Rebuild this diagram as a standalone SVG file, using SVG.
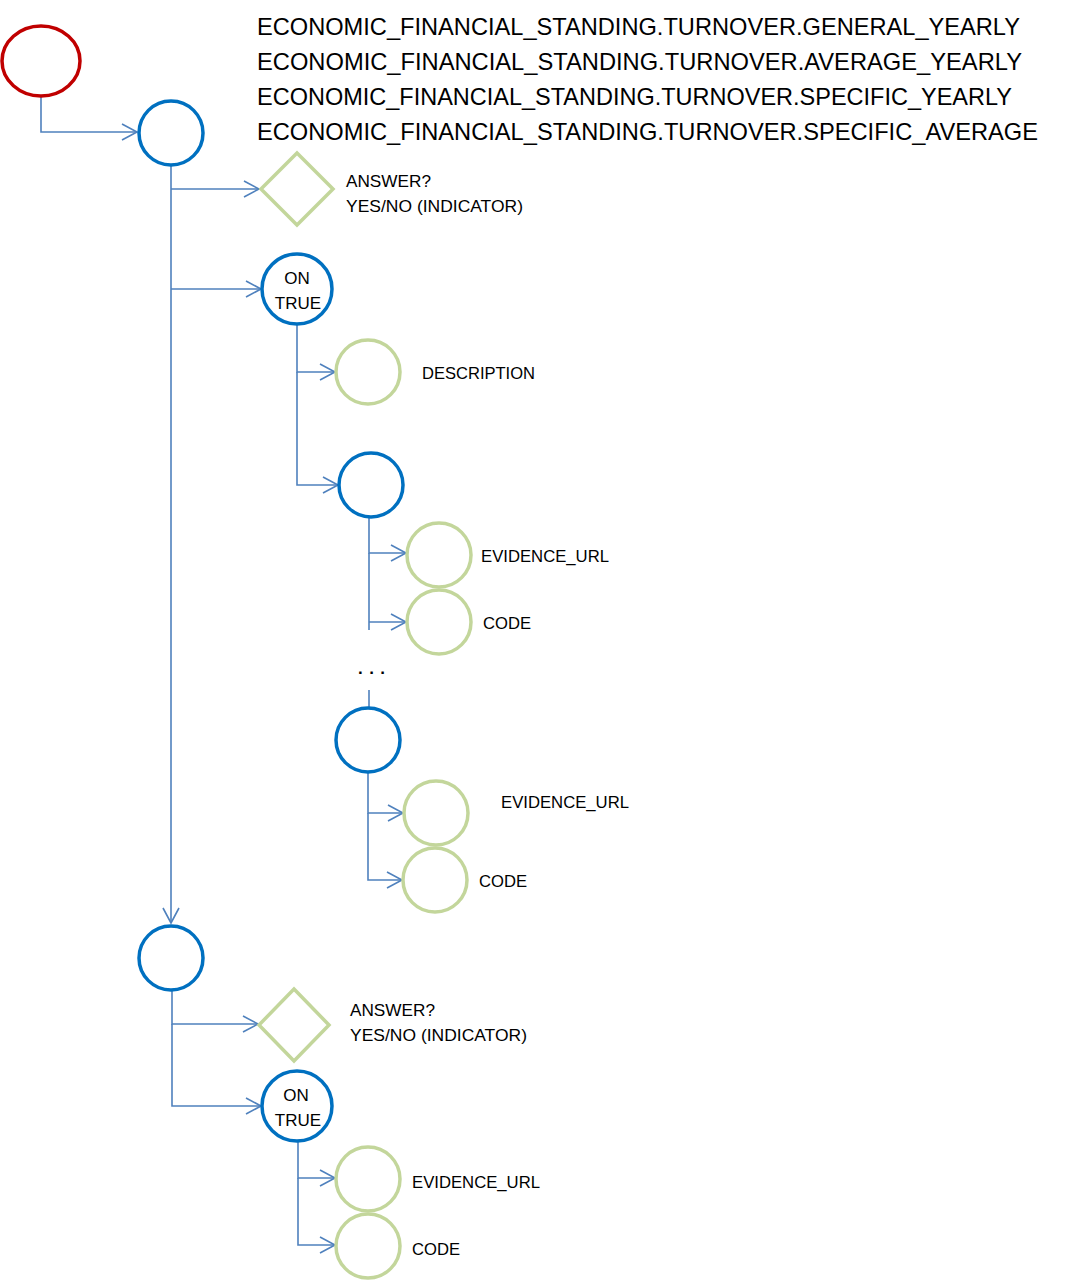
<svg xmlns="http://www.w3.org/2000/svg" width="1067" height="1280" viewBox="0 0 1067 1280">
<style>
.blue{fill:#fff;stroke:#0070C0;stroke-width:3.5}
.red{fill:#fff;stroke:#C00000;stroke-width:3.5}
.green{fill:#fff;stroke:#C3D69B;stroke-width:3.5}
.conn{fill:none;stroke:#4F81BD;stroke-width:1.6}
.hdr{font-family:"Liberation Sans",Arial,sans-serif;font-size:24px;fill:#000}
.lbl{font-family:"Liberation Sans",Arial,sans-serif;font-size:17px;fill:#000}
</style>
<defs>
<marker id="arr" markerWidth="20" markerHeight="20" refX="16" refY="9" orient="auto" markerUnits="userSpaceOnUse">
<path d="M1,1 L16,9 L1,17" fill="none" stroke="#4F81BD" stroke-width="1.6"/>
</marker>
</defs>
<g id="header">
<text class="hdr" x="257" y="35" textLength="763" lengthAdjust="spacingAndGlyphs">ECONOMIC_FINANCIAL_STANDING.TURNOVER.GENERAL_YEARLY</text>
<text class="hdr" x="257" y="70" textLength="765" lengthAdjust="spacingAndGlyphs">ECONOMIC_FINANCIAL_STANDING.TURNOVER.AVERAGE_YEARLY</text>
<text class="hdr" x="257" y="105" textLength="755" lengthAdjust="spacingAndGlyphs">ECONOMIC_FINANCIAL_STANDING.TURNOVER.SPECIFIC_YEARLY</text>
<text class="hdr" x="257" y="140" textLength="781" lengthAdjust="spacingAndGlyphs">ECONOMIC_FINANCIAL_STANDING.TURNOVER.SPECIFIC_AVERAGE</text>
</g>
<g id="connectors">
<path class="conn" d="M41,96 V132 H137" marker-end="url(#arr)"/>
<path class="conn" d="M171,165 V923" marker-end="url(#arr)"/>
<path class="conn" d="M171,189 H259" marker-end="url(#arr)"/>
<path class="conn" d="M171,289 H261" marker-end="url(#arr)"/>
<path class="conn" d="M297,324 V372 H335" marker-end="url(#arr)"/>
<path class="conn" d="M297,372 V485 H338" marker-end="url(#arr)"/>
<path class="conn" d="M369,517 V553 H406" marker-end="url(#arr)"/>
<path class="conn" d="M369,553 V630"/>
<path class="conn" d="M369,622 H406" marker-end="url(#arr)"/>
<path class="conn" d="M369,690 V708"/>
<path class="conn" d="M368,772 V813 H403" marker-end="url(#arr)"/>
<path class="conn" d="M368,813 V880 H402" marker-end="url(#arr)"/>
<path class="conn" d="M172,990 V1024 H258" marker-end="url(#arr)"/>
<path class="conn" d="M172,1024 V1106 H261" marker-end="url(#arr)"/>
<path class="conn" d="M298,1141 V1178 H335" marker-end="url(#arr)"/>
<path class="conn" d="M298,1178 V1245 H335" marker-end="url(#arr)"/>
</g>
<g id="root"><ellipse class="red" cx="41" cy="61" rx="39" ry="35"/></g>
<g id="group1"><circle class="blue" cx="171" cy="133" r="32"/></g>
<g id="answer1"><polygon class="green" points="297,153 333,189 297,225 261,189"/>
<text class="lbl" x="346" y="187" textLength="85" lengthAdjust="spacingAndGlyphs">ANSWER?</text>
<text class="lbl" x="346" y="212" textLength="177" lengthAdjust="spacingAndGlyphs">YES/NO (INDICATOR)</text></g>
<g id="ontrue1"><circle class="blue" cx="297" cy="289" r="35"/>
<text class="lbl" x="297" y="284" text-anchor="middle">ON</text>
<text class="lbl" x="298" y="309" text-anchor="middle">TRUE</text></g>
<g id="description"><circle class="green" cx="368" cy="372" r="32"/>
<text class="lbl" x="422" y="379" textLength="113" lengthAdjust="spacingAndGlyphs">DESCRIPTION</text></g>
<g id="evidence1"><circle class="blue" cx="371" cy="485" r="32"/></g>
<g id="evurl1"><circle class="green" cx="439" cy="555" r="32"/>
<text class="lbl" x="481" y="562" textLength="128" lengthAdjust="spacingAndGlyphs">EVIDENCE_URL</text></g>
<g id="code1"><circle class="green" cx="439" cy="622" r="32"/>
<text class="lbl" x="483" y="629" textLength="48" lengthAdjust="spacingAndGlyphs">CODE</text></g>
<g id="ellipsis"><text class="lbl" x="358" y="674" font-size="22" font-weight="bold" textLength="27" lengthAdjust="spacing">...</text></g>
<g id="evidence2"><circle class="blue" cx="368" cy="740" r="32"/></g>
<g id="evurl2"><circle class="green" cx="436" cy="813" r="32"/>
<text class="lbl" x="501" y="808" textLength="128" lengthAdjust="spacingAndGlyphs">EVIDENCE_URL</text></g>
<g id="code2"><circle class="green" cx="435" cy="880" r="32"/>
<text class="lbl" x="479" y="887" textLength="48" lengthAdjust="spacingAndGlyphs">CODE</text></g>
<g id="group2"><circle class="blue" cx="171" cy="958" r="32"/></g>
<g id="answer2"><polygon class="green" points="294,989 329,1025 294,1061 259,1025"/>
<text class="lbl" x="350" y="1016" textLength="85" lengthAdjust="spacingAndGlyphs">ANSWER?</text>
<text class="lbl" x="350" y="1041" textLength="177" lengthAdjust="spacingAndGlyphs">YES/NO (INDICATOR)</text></g>
<g id="ontrue2"><circle class="blue" cx="297" cy="1106" r="35"/>
<text class="lbl" x="296" y="1101" text-anchor="middle">ON</text>
<text class="lbl" x="298" y="1126" text-anchor="middle">TRUE</text></g>
<g id="evurl3"><circle class="green" cx="368" cy="1179" r="32"/>
<text class="lbl" x="412" y="1188" textLength="128" lengthAdjust="spacingAndGlyphs">EVIDENCE_URL</text></g>
<g id="code3"><circle class="green" cx="368" cy="1246" r="32"/>
<text class="lbl" x="412" y="1255" textLength="48" lengthAdjust="spacingAndGlyphs">CODE</text></g>
</svg>
